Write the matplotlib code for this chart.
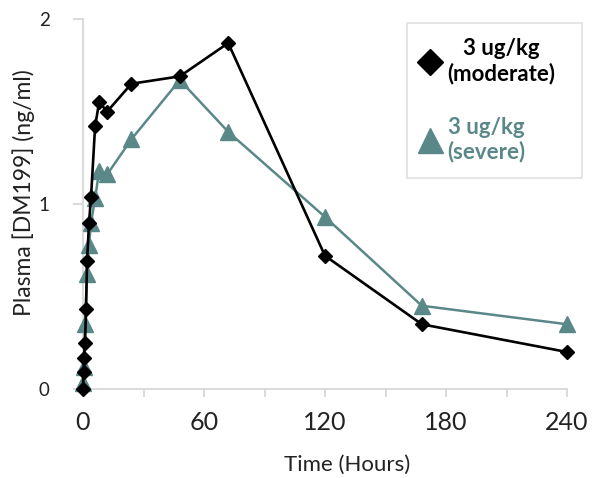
import matplotlib
matplotlib.use("Agg")
import matplotlib.pyplot as plt
from matplotlib.lines import Line2D
from matplotlib.patches import Rectangle
from matplotlib.ticker import MultipleLocator

plt.rcParams['font.family'] = ['Lato', 'DejaVu Sans']

# plasma levels
mod_time = [0, 0.25, 0.5, 1, 1.5, 2, 3, 4, 6, 8, 12, 24, 48, 72, 120, 168, 240]
mod_conc = [0, 0.09, 0.17, 0.25, 0.43, 0.69, 0.90, 1.04, 1.42, 1.55, 1.50,
            1.65, 1.69, 1.87, 0.72, 0.35, 0.20]
sev_time = [0, 0.5, 1, 2, 3, 4, 6, 8, 12, 24, 48, 72, 120, 168, 240]
sev_conc = [0.03, 0.12, 0.35, 0.62, 0.78, 0.90, 1.03, 1.18, 1.16, 1.35,
            1.67, 1.39, 0.93, 0.45, 0.35]

mod_label = '3 ug/kg\n(moderate)'
sev_label = '3 ug/kg\n(severe)'

teal = '#5a8888'
grey = '#d4d4d4'
txt = '#222222'

fig = plt.figure(figsize=(5.93, 4.78), dpi=100)
ax = fig.add_axes([83 / 593, 89 / 478, 484 / 593, 370 / 478])

ax.plot(sev_time, sev_conc, color=teal, lw=1.8, marker='^', ms=11,
        clip_on=False, zorder=3)
ax.plot(mod_time, mod_conc, color='black', lw=1.9, marker='D', ms=7.3,
        clip_on=False, zorder=4)

ax.set_xlim(0, 240)
ax.set_ylim(0, 2)
ax.xaxis.set_major_locator(MultipleLocator(60))
ax.xaxis.set_minor_locator(MultipleLocator(30))
ax.yaxis.set_major_locator(MultipleLocator(1))

for side in ('top', 'right'):
    ax.spines[side].set_visible(False)
for side in ('left', 'bottom'):
    ax.spines[side].set_color(grey)
    ax.spines[side].set_linewidth(1.2)

ax.tick_params(axis='x', which='both', length=6, width=1.2, color=grey,
               labelsize=18, pad=10, labelcolor=txt)
ax.tick_params(axis='y', length=7, width=1.2, color=grey,
               labelsize=13.5, pad=17, labelcolor=txt)

ax.set_xlabel('Time (Hours)', fontsize=16, va='center', color=txt)
ax.xaxis.set_label_coords(0.545, -0.205)
ax.set_ylabel('Plasma [DM199] (ng/ml)', fontsize=16.5, va='center', color=txt)
ax.yaxis.set_label_coords(-0.122, 0.532)

# legend box drawn separately so its padding can match the reference
ax.add_patch(Rectangle((0.669, 0.570), 0.362, 0.419, transform=ax.transAxes,
                       fill=True, facecolor='white', edgecolor='#e0e0e0',
                       lw=1.2, clip_on=False, zorder=5))
handles = [
    Line2D([], [], ls='none', marker='D', ms=13, color='black'),
    Line2D([], [], ls='none', marker='^', ms=18, color=teal),
]
leg = ax.legend(handles, [mod_label, sev_label], loc='center',
                bbox_to_anchor=(0.835, 0.780), frameon=False,
                prop={'weight': 'bold', 'size': 16},
                labelspacing=1.45, handlelength=1.0, handletextpad=0.3,
                borderpad=0, labelcolor=['black', teal])
leg.set_zorder(6)
for t in leg.get_texts():
    t.set_multialignment('center')

fig.savefig('out.png', dpi=100)
